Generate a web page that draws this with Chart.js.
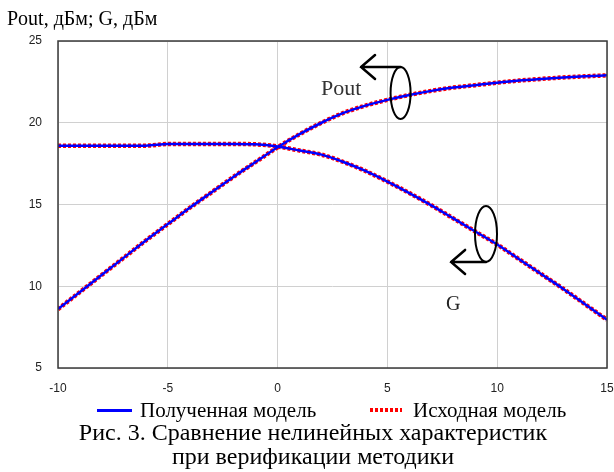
<!DOCTYPE html>
<html>
<head>
<meta charset="utf-8">
<script src="https://cdn.jsdelivr.net/npm/chart.js@4"></script>
<style>
    html, body { margin: 0; padding: 0; background: #fff; }
    #wrap { position: relative; width: 614px; height: 472px; overflow: hidden; }
    canvas { position: absolute; left: 0; top: 0; }
    .txt { position: absolute; font-family: "Liberation Serif", "Times New Roman", serif; line-height: 1; white-space: nowrap; color: #000; }
    .sym { position: absolute; }
</style>
</head>
<body>
<div id="wrap">
    <canvas id="chart" width="614" height="472"></canvas>
    <div class="txt" style="left:7px; top:8px; font-size:20px;">Pout, дБм; G, дБм</div>
    <div class="txt" style="left:321px; top:77px; font-size:22px; color:#333;">Pout</div>
    <div class="txt" style="left:446px; top:293px; font-size:20px; color:#222;">G</div>

    <!-- legend -->
    <div class="sym" style="left:97px; top:409px; width:35px; height:3px; background:#0000ff;"></div>
    <div class="txt" style="left:140px; top:400px; font-size:21px;">Полученная модель</div>
    <div class="sym" style="left:370px; top:408px; width:32px; height:4px; background:repeating-linear-gradient(90deg, #ff0000 0 3px, transparent 3px 5px);"></div>
    <div class="txt" style="left:413px; top:400px; font-size:21px;">Исходная модель</div>

    <!-- caption -->
    <div class="txt" style="left:0; width:626px; text-align:center; top:420px; font-size:24px;">Рис. 3. Сравнение нелинейных характеристик</div>
    <div class="txt" style="left:0; width:626px; text-align:center; top:444px; font-size:24px;">при верификации методики</div>
</div>
<script>
// Pin, дБм
const inputPower = [-10, -9, -8, -7, -6, -5, -4, -3, -2, -1, 0, 1, 2, 3, 4, 5, 6, 7, 8, 9, 10, 11, 12, 13, 14, 15];

// Полученная модель
const poutModel = [8.6, 9.65, 10.7, 11.75, 12.8, 13.8, 14.8, 15.75, 16.7, 17.6, 18.5, 19.3, 20.0, 20.6, 21.05, 21.4,
    21.7, 21.95, 22.15, 22.3, 22.45, 22.58, 22.68, 22.77, 22.84, 22.9];
const gainModel = [18.6, 18.6, 18.6, 18.6, 18.6, 18.7, 18.7, 18.7, 18.7, 18.68, 18.55, 18.3, 18.05, 17.6, 17.05, 16.4,
    15.7, 14.95, 14.15, 13.35, 12.55, 11.65, 10.75, 9.85, 8.9, 7.95];

// Исходная модель
const poutSource = [8.6, 9.65, 10.7, 11.75, 12.8, 13.8, 14.8, 15.75, 16.7, 17.6, 18.5, 19.3, 20.0, 20.6, 21.05, 21.4,
    21.7, 21.95, 22.15, 22.3, 22.45, 22.58, 22.68, 22.77, 22.84, 22.9];
const gainSource = [18.6, 18.6, 18.6, 18.6, 18.6, 18.7, 18.7, 18.7, 18.7, 18.68, 18.55, 18.3, 18.05, 17.6, 17.05, 16.4,
    15.7, 14.95, 14.15, 13.35, 12.55, 11.65, 10.75, 9.85, 8.9, 7.95];

const xTicks = [-10, -5, 0, 5, 10, 15];
const yTicks = [5, 10, 15, 20, 25];

// ellipse + arrow markers (centre in data units)
const markers = [
    { cx: 5.6, cy: 21.82, rx: 10, ry: 26, tipX: 3.8, side: 'top' },
    { cx: 9.49, cy: 13.2, rx: 11, ry: 28, tipX: 7.9, side: 'bottom' }
];

function points(values) {
    return inputPower.map((x, i) => ({ x: x, y: values[i] }));
}

function modelLine(values) {
    return {
        data: points(values),
        borderColor: '#0000ff',
        borderWidth: 2.5,
        pointRadius: 0,
        cubicInterpolationMode: 'monotone',
        order: 0
    };
}

function sourceLine(values) {
    return {
        data: points(values),
        borderColor: '#ff0000',
        borderWidth: 4.5,
        borderDash: [3, 2],
        pointRadius: 0,
        cubicInterpolationMode: 'monotone',
        order: 1
    };
}

const framePlugin = {
    id: 'frame',
    afterDatasetsDraw(chart) {
        const { ctx, chartArea: a, scales } = chart;
        ctx.save();
        ctx.strokeStyle = '#3a3a3a';
        ctx.lineWidth = 1.5;
        ctx.strokeRect(a.left, a.top, a.right - a.left, a.bottom - a.top);

        // ellipses with arrows
        ctx.strokeStyle = '#000';
        markers.forEach(m => {
            const cx = scales.x.getPixelForValue(m.cx);
            const cy = scales.y.getPixelForValue(m.cy);
            const tip = scales.x.getPixelForValue(m.tipX);
            ctx.lineWidth = 2;
            ctx.beginPath();
            ctx.ellipse(cx, cy, m.rx, m.ry, 0, 0, Math.PI * 2);
            ctx.stroke();

            const ly = m.side === 'top' ? cy - m.ry : cy + m.ry;
            ctx.lineWidth = 2.5;
            ctx.lineCap = 'round';
            ctx.beginPath();
            ctx.moveTo(cx, ly);
            ctx.lineTo(tip, ly);
            ctx.moveTo(tip + 14, ly - 12);
            ctx.lineTo(tip, ly);
            ctx.lineTo(tip + 14, ly + 12);
            ctx.stroke();
        });
        ctx.restore();
    }
};

document.addEventListener('DOMContentLoaded', () => {
    const ctx = document.getElementById('chart').getContext('2d');

    new Chart(ctx, {
        type: 'line',
        data: {
            datasets: [
                modelLine(poutModel),
                modelLine(gainModel),
                sourceLine(poutSource),
                sourceLine(gainSource)
            ]
        },
        options: {
            responsive: false,
            animation: false,
            layout: { padding: { top: 41, right: 7, left: 0, bottom: 0 } },
            plugins: {
                legend: { display: false },
                tooltip: { enabled: false }
            },
            scales: {
                x: {
                    type: 'linear',
                    min: -10,
                    max: 15,
                    afterBuildTicks: scale => { scale.ticks = xTicks.map(v => ({ value: v })); },
                    afterFit: scale => {
                        scale.height = 472 - 368;
                        scale.paddingLeft = 0;
                        scale.paddingRight = 0;
                    },
                    grid: { color: '#d0d0d0', lineWidth: 1, drawTicks: false },
                    border: { display: false },
                    ticks: {
                        padding: 13,
                        maxRotation: 0,
                        autoSkip: false,
                        color: '#222',
                        font: { family: 'Liberation Sans, Arial, sans-serif', size: 12 }
                    }
                },
                y: {
                    min: 5,
                    max: 25,
                    afterBuildTicks: scale => { scale.ticks = yTicks.map(v => ({ value: v })); },
                    afterFit: scale => {
                        scale.width = 58;
                        scale.paddingTop = 0;
                        scale.paddingBottom = 0;
                    },
                    grid: { color: '#d0d0d0', lineWidth: 1, drawTicks: false },
                    border: { display: false },
                    ticks: {
                        padding: 16,
                        color: '#222',
                        font: { family: 'Liberation Sans, Arial, sans-serif', size: 12 }
                    }
                }
            }
        },
        plugins: [framePlugin]
    });
});
</script>
</body>
</html>
